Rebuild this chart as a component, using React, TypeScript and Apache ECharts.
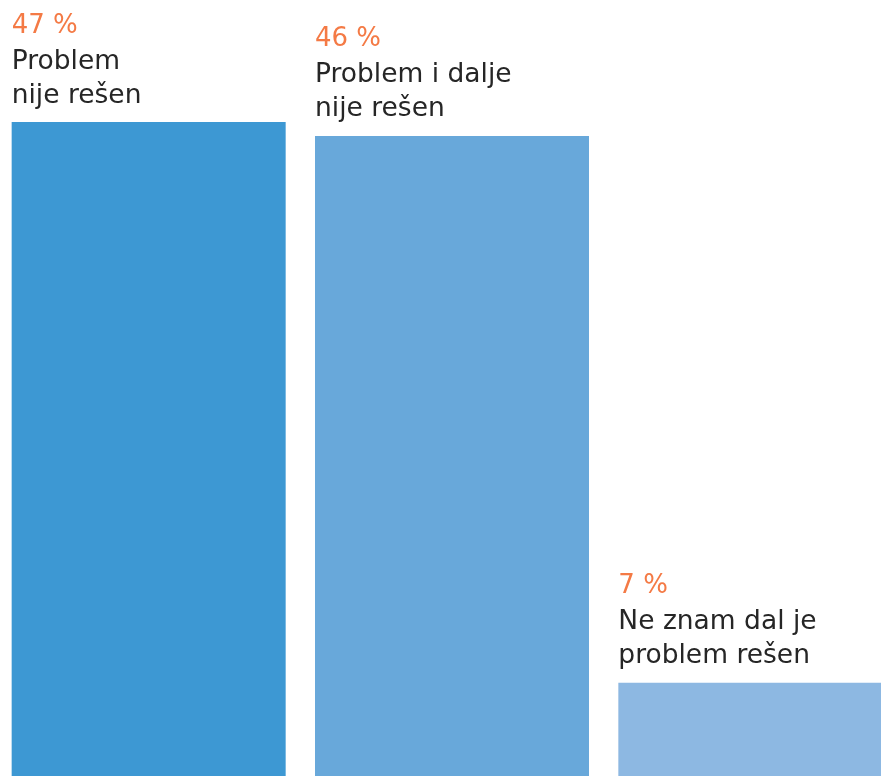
import React, { useEffect, useRef } from "react";
import * as echarts from "echarts";

const categories = ["Problem\nnije rešen", "Problem i dalje\nnije rešen", "Ne znam dal je\nproblem rešen"];
const values = [47, 46, 6.7];
const percentLabels = ["47 %", "46 %", "7 %"];
const barColors = ["#3d98d3", "#68a8da", "#8db8e2"];

export default function App() {
  const ref = useRef<HTMLDivElement>(null);
  useEffect(() => {
    if (!ref.current) return;
    const chart = echarts.init(ref.current, undefined, { renderer: "svg" });
    chart.setOption({
      animation: false,
      grid: { left: 0, right: 0, top: 10.7, bottom: 0 },
      xAxis: {
        type: "category",
        data: categories,
        show: false,
      },
      yAxis: { type: "value", min: 0, max: 55, show: false },
      series: [
        {
          type: "bar",
          barWidth: 274,
          data: values.map((v, i) => ({ value: v, itemStyle: { color: barColors[i] } })),
          label: {
            show: true,
            position: [0, -12],
            align: "left",
            verticalAlign: "bottom",
            formatter: (p: any) => {
              const lines = categories[p.dataIndex].split("\n");
              return `{pct|${percentLabels[p.dataIndex]}}\n` + lines.map((l) => `{txt|${l}}`).join("\n");
            },
            rich: {
              pct: {
                fontFamily: "DejaVu Sans",
                fontSize: 26,
                color: "#f47a45",
                lineHeight: 37,
              },
              txt: {
                fontFamily: "DejaVu Sans",
                fontSize: 26.5,
                color: "#262626",
                lineHeight: 34,
              },
            },
          },
        },
      ],
    });
    return () => chart.dispose();
  }, []);
  return (
    <div
      ref={ref}
      style={{ position: "fixed", left: -3, top: 0, width: 910, height: 776 }}
    />
  );
}
